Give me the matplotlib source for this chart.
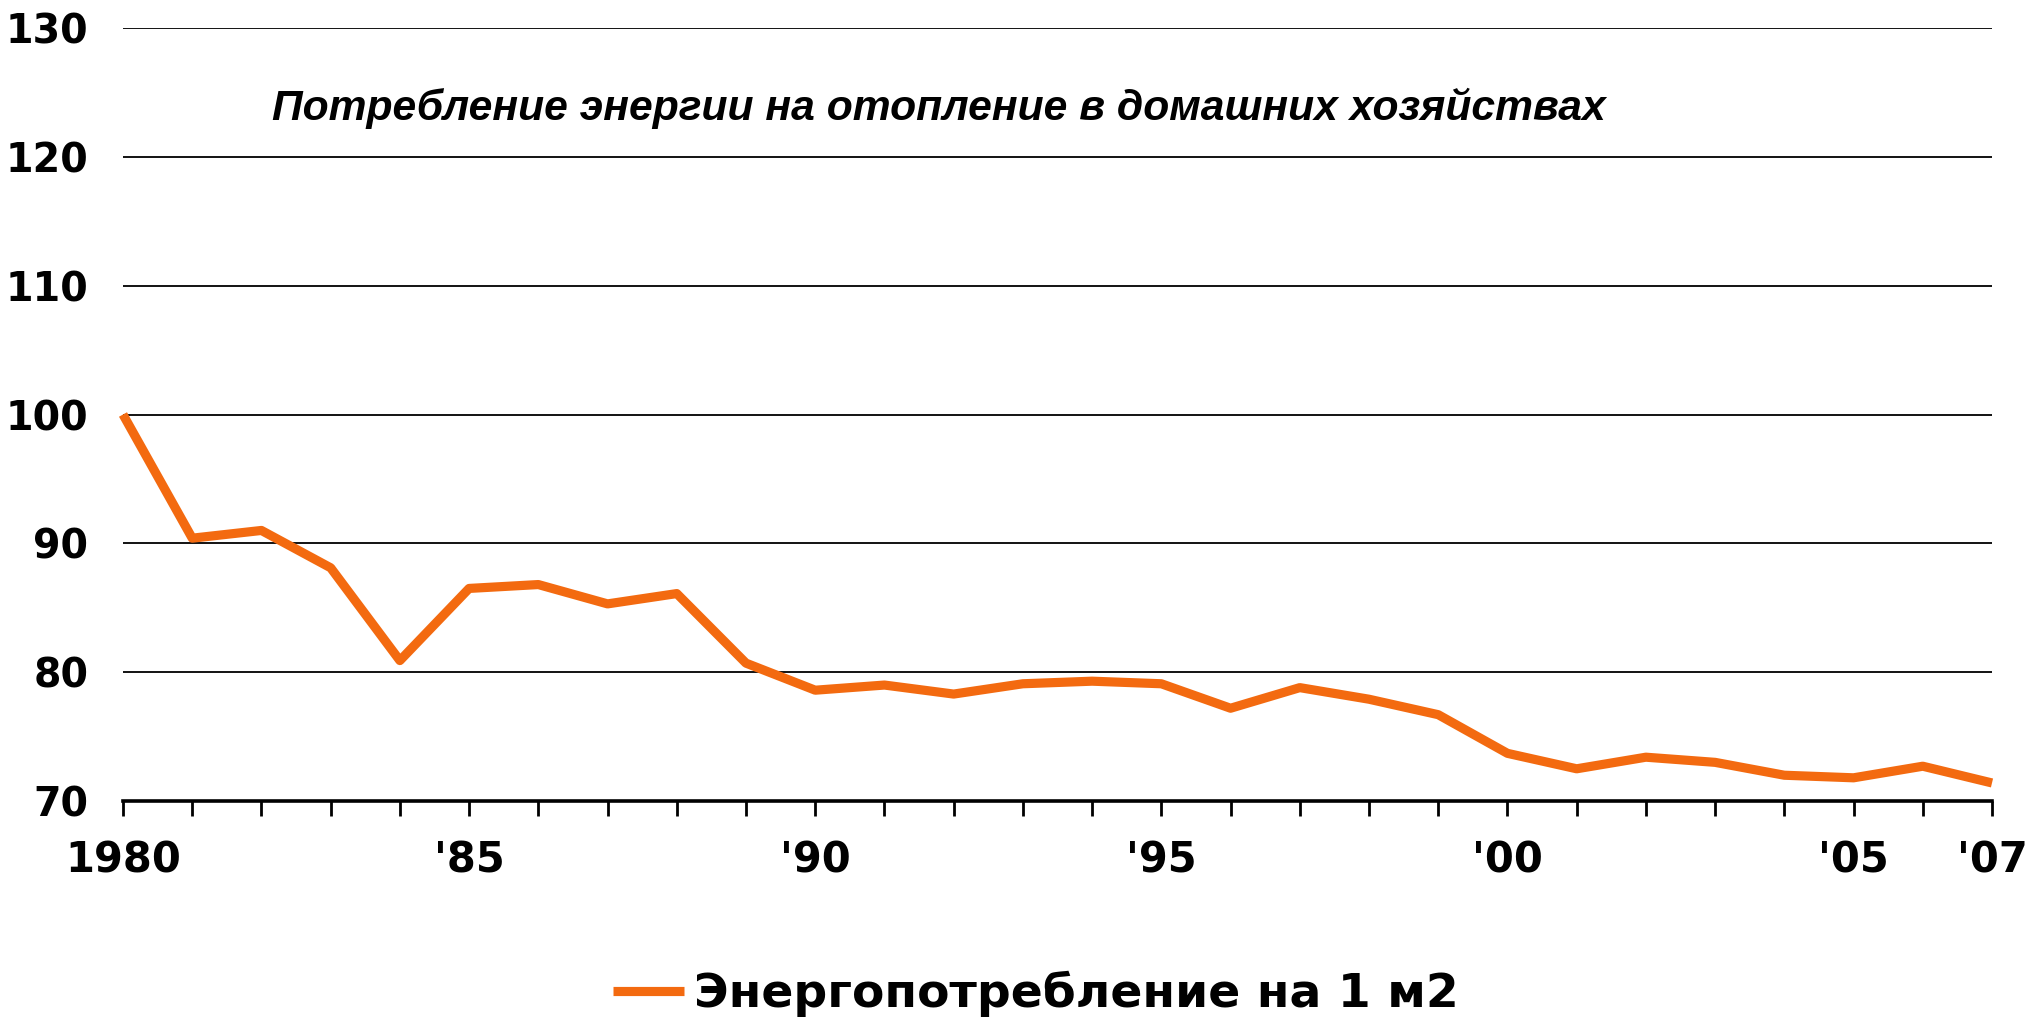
import matplotlib
matplotlib.use("Agg")
import matplotlib.pyplot as plt

years = list(range(1980, 2008))
energy_per_m2 = [100.0, 90.4, 91.0, 88.1, 80.9, 86.5, 86.8, 85.3, 86.1, 80.7,
                 78.6, 79.0, 78.3, 79.1, 79.3, 79.1, 77.2, 78.8, 77.9, 76.7,
                 73.7, 72.5, 73.4, 73.0, 72.0, 71.8, 72.7, 71.4]
tick_years = [1980, 1985, 1990, 1995, 2000, 2005, 2007]
tick_labels = ["1980", "'85", "'90", "'95", "'00", "'05", "'07"]
y_ticks = [70, 80, 90, 100, 110, 120, 130]
title = "Потребление энергии на отопление в домашних хозяйствах"
series_name = "Энергопотребление на 1 м2"

orange = "#F36A10"

fig = plt.figure(figsize=(20.28, 10.21), dpi=100)
ax = fig.add_axes([123/2028, 1-801/1021, (1992-123)/2028, (801-28)/1021])

ax.plot(years, energy_per_m2, color=orange, lw=6.6, solid_joinstyle='round',
        solid_capstyle='butt', label=series_name, clip_on=False, zorder=3)

ax.set_xlim(1980, 2007)
ax.set_ylim(70, 130)
ax.set_yticks(y_ticks)
ax.set_yticklabels([str(v) for v in y_ticks])
ax.yaxis.grid(True, color="black", lw=1.3)
ax.set_axisbelow(True)
for s in ["left", "right", "top"]:
    ax.spines[s].set_visible(False)
ax.spines["bottom"].set_linewidth(2.6)
ax.spines["bottom"].set_color("black")
ax.spines["bottom"].set_zorder(4)

ax.set_xticks(years, minor=True)
ax.set_xticks(tick_years)
ax.set_xticklabels(tick_labels)
ax.tick_params(axis='x', which='both', direction='out', length=10.5, width=2.0,
               color='black')
ax.tick_params(axis='x', which='major', pad=17)
ax.tick_params(axis='y', length=0, pad=25)

for lab in ax.get_xticklabels():
    lab.set_fontfamily("DejaVu Sans")
    lab.set_fontweight("bold")
    lab.set_fontsize(30)
for lab in ax.get_yticklabels():
    lab.set_fontfamily("DejaVu Sans")
    lab.set_fontweight("bold")
    lab.set_fontsize(28.5)

fig.text(272/2028, 1-120/1021, title, ha='left', va='baseline',
         fontfamily="Liberation Sans", fontweight='bold', fontstyle='italic',
         fontsize=30.7)

leg = fig.legend(loc='center', bbox_to_anchor=(1036/2028, 1-994/1021),
                 frameon=False, handlelength=1.5, handletextpad=0.22,
                 prop={'family': 'DejaVu Sans', 'weight': 'bold', 'size': 34})

fig.savefig("out.png", dpi=100, facecolor='white')
